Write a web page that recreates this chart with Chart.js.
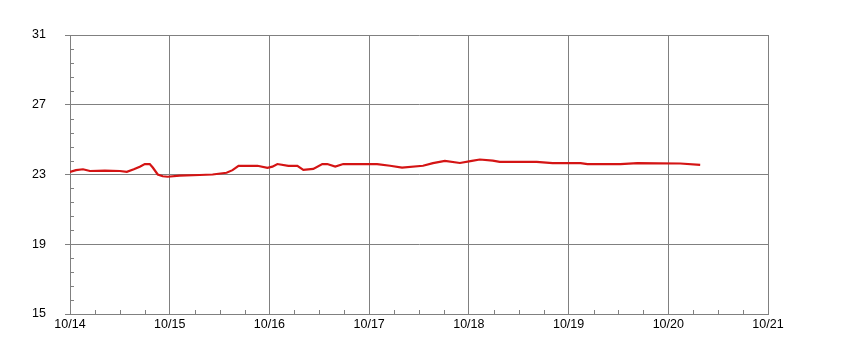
<!DOCTYPE html>
<html>
<head>
<meta charset="utf-8">
<script src="https://cdn.jsdelivr.net/npm/chart.js@4"></script>
<style>
  html, body { margin: 0; padding: 0; background: #fff; }
  #wrap { width: 868px; height: 349px; }
</style>
</head>
<body>
<div id="wrap"><canvas id="graph" width="868" height="349"></canvas></div>
<script>
// days since 10/14 00:00
const dayOffsets = [0.00, 0.06, 0.13, 0.20, 0.35, 0.50, 0.57, 0.64, 0.70, 0.75, 0.80, 0.83, 0.88, 0.93, 0.98,
    1.10, 1.30, 1.43, 1.57, 1.63, 1.69, 1.88, 1.98, 2.03, 2.08, 2.19, 2.28, 2.34, 2.44, 2.53, 2.58,
    2.66, 2.74, 2.91, 3.08, 3.21, 3.33, 3.54, 3.64, 3.76, 3.91, 4.03, 4.11, 4.24, 4.31, 4.68, 4.84,
    5.12, 5.19, 5.52, 5.69, 6.12, 6.32];
const temps = [23.15, 23.25, 23.3, 23.2, 23.22, 23.2, 23.15, 23.3, 23.45, 23.6, 23.6, 23.4, 23.0, 22.9, 22.87,
    22.93, 22.97, 23.0, 23.1, 23.25, 23.5, 23.5, 23.38, 23.45, 23.6, 23.5, 23.5, 23.27, 23.32, 23.6, 23.6,
    23.45, 23.6, 23.6, 23.6, 23.5, 23.4, 23.5, 23.65, 23.78, 23.66, 23.78, 23.86, 23.8, 23.72, 23.72, 23.65,
    23.65, 23.6, 23.6, 23.65, 23.63, 23.55];
const xTickLabels = ['10/14', '10/15', '10/16', '10/17', '10/18', '10/19', '10/20', '10/21'];
const yTicks = [15, 19, 23, 27, 31];

const gridGray = '#808080';

// short inward minor ticks (6h on x, 0.8 on y)
const minorTicks = {
    id: 'minorTicks',
    afterDraw(chart) {
        const ctx = chart.ctx, xs = chart.scales.x, ys = chart.scales.y;
        const area = chart.chartArea;
        ctx.save();
        ctx.strokeStyle = gridGray;
        ctx.lineWidth = 1;
        ctx.beginPath();
        for (let d = 0; d < 7; d++) {
            for (let q = 1; q < 4; q++) {
                let px = Math.round(xs.getPixelForValue(d + q / 4)) + 0.5;
                ctx.moveTo(px, area.bottom);
                ctx.lineTo(px, area.bottom - 4);
            }
        }
        for (let i = 0; i < yTicks.length - 1; i++) {
            for (let k = 1; k < 5; k++) {
                let py = Math.round(ys.getPixelForValue(yTicks[i] + k * 0.8)) + 0.5;
                ctx.moveTo(area.left, py);
                ctx.lineTo(area.left + 4, py);
            }
        }
        ctx.stroke();
        ctx.restore();
    }
};

let chart = new Chart(document.getElementById('graph').getContext('2d'), {
    type: 'line',
    data: {
        datasets: [{
            data: dayOffsets.map((d, i) => ({ x: d, y: temps[i] })),
            borderColor: '#d41414',
            borderWidth: 2.2,
            pointRadius: 0,
            tension: 0,
            fill: false
        }]
    },
    options: {
        responsive: false,
        animation: false,
        layout: { padding: { top: 35, right: 100, left: 0, bottom: 0 } },
        plugins: { legend: { display: false }, tooltip: { enabled: false } },
        scales: {
            x: {
                type: 'linear',
                min: 0,
                max: 7,
                afterBuildTicks: (s) => { s.ticks = xTickLabels.map((_, i) => ({ value: i })); },
                afterFit: (s) => { s.height = 35; },
                ticks: {
                    autoSkip: false,
                    maxRotation: 0,
                    padding: 3,
                    color: '#000',
                    font: { family: 'Arial, "Liberation Sans"', size: 12.5 },
                    callback: (v) => xTickLabels[v]
                },
                grid: { color: gridGray, drawTicks: false },
                border: { color: gridGray }
            },
            y: {
                min: 15,
                max: 31,
                afterBuildTicks: (s) => { s.ticks = yTicks.map(v => ({ value: v })); },
                afterFit: (s) => { s.width = 70; },
                ticks: {
                    padding: 19,
                    color: '#000',
                    font: { family: 'Arial, "Liberation Sans"', size: 12.5 }
                },
                grid: { color: gridGray, tickLength: 5, tickColor: gridGray },
                border: { color: gridGray }
            }
        }
    },
    plugins: [minorTicks]
});
</script>
</body>
</html>
